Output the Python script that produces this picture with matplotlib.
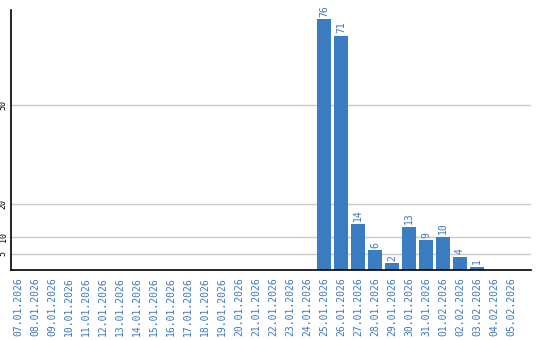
import matplotlib
matplotlib.use("Agg")
import matplotlib.pyplot as plt

dates = ["07.01.2026", "08.01.2026", "09.01.2026", "10.01.2026", "11.01.2026",
         "12.01.2026", "13.01.2026", "14.01.2026", "15.01.2026", "16.01.2026",
         "17.01.2026", "18.01.2026", "19.01.2026", "20.01.2026", "21.01.2026",
         "22.01.2026", "23.01.2026", "24.01.2026", "25.01.2026", "26.01.2026",
         "27.01.2026", "28.01.2026", "29.01.2026", "30.01.2026", "31.01.2026",
         "01.02.2026", "02.02.2026", "03.02.2026", "04.02.2026", "05.02.2026"]
values = [0, 0, 0, 0, 0, 0, 0, 0, 0, 0, 0, 0, 0, 0, 0, 0, 0, 0,
          76, 71, 14, 6, 2, 13, 9, 10, 4, 1, 0, 0]
yticks = [5, 10, 20, 50]

bar_color = "#3b7dc2"
text_color = "#3a78bd"

fig = plt.figure(figsize=(5.4, 3.4), dpi=100)
ax = fig.add_axes([10.5 / 540, 70 / 340, 520.5 / 540, 260 / 340])

x = list(range(len(dates)))
ax.bar(x, values, width=0.82, color=bar_color, zorder=3)

for xi, v in zip(x, values):
    if v > 0:
        ax.text(xi, v + 0.8, str(v), rotation=90, ha="center", va="bottom",
                color=text_color, fontsize=7, family="DejaVu Sans Mono")

ax.set_xlim(-0.44, 30.18)
ax.set_ylim(0, 78.8)
ax.set_yticks(yticks)
ax.set_yticklabels([str(t) for t in yticks], rotation=90, va="center",
                   family="DejaVu Sans Mono", fontsize=6)
ax.set_xticks(x)
ax.set_xticklabels(dates, rotation=90, color=text_color,
                   family="DejaVu Sans Mono", fontsize=7)
ax.tick_params(axis="both", length=0)
ax.tick_params(axis="x", pad=5)
ax.tick_params(axis="y", pad=2)
ax.grid(axis="y", color="#c8c8c8", linewidth=1, zorder=0)
for s in ["top", "right"]:
    ax.spines[s].set_visible(False)
ax.spines["left"].set_linewidth(1.2)
ax.spines["bottom"].set_linewidth(1.2)
ax.spines["left"].set_zorder(4)
ax.spines["bottom"].set_zorder(4)

fig.savefig("out.png", dpi=100)
